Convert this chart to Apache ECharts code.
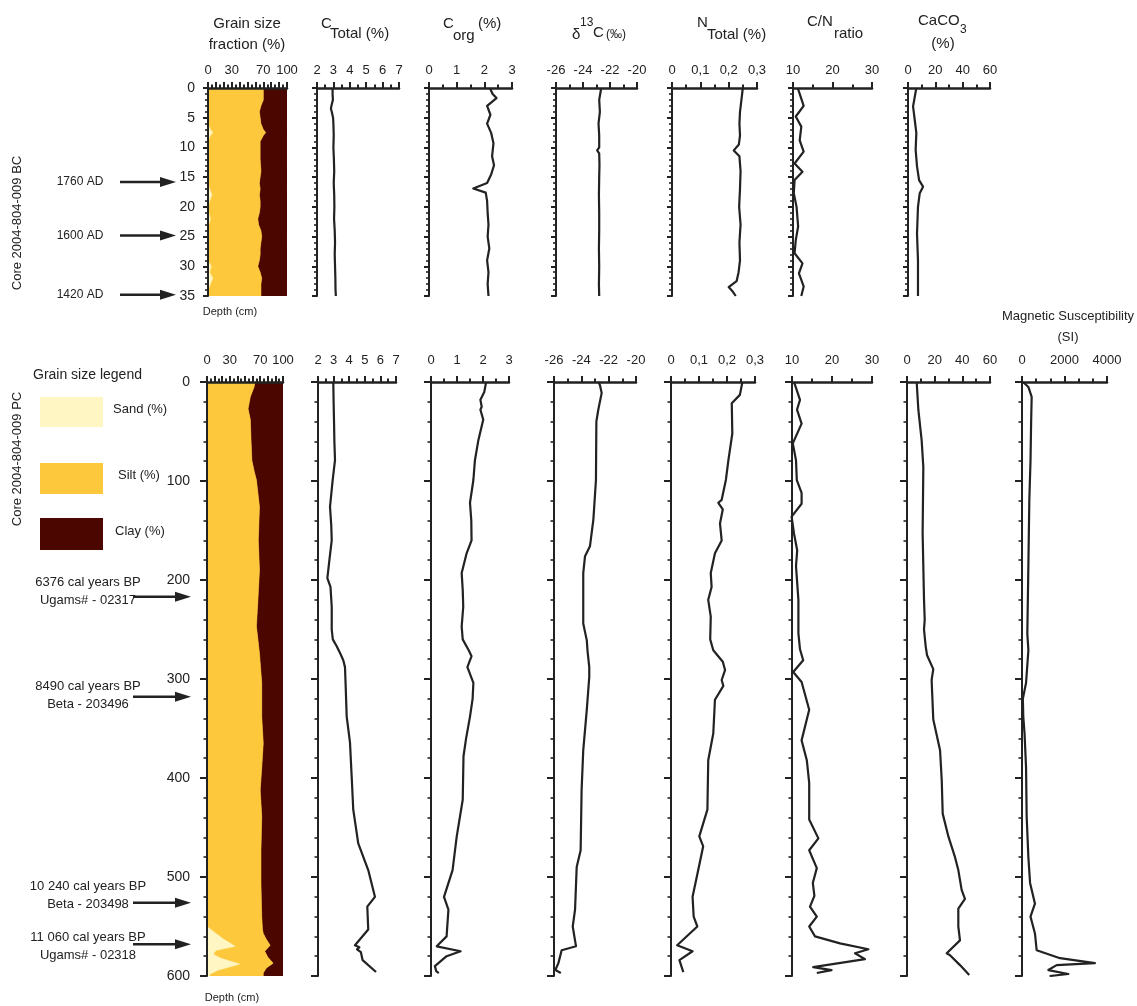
<!DOCTYPE html>
<html>
<head>
<meta charset="utf-8">
<script src="https://cdn.jsdelivr.net/npm/echarts@6/dist/echarts.min.js"></script>
<style>
  html, body { margin: 0; padding: 0; background: #fff; }
  #chart { width: 1137px; height: 1006px; }
</style>
</head>
<body>
<div id="chart"></div>
<script>
// ---------- Box core 2004-804-009 BC (depth 0–35 cm) ----------
const bcGrainDepth = [0,2,3,4,5,6,7,7.5,8,9,10,12,14,15,16,17,18,19,20,21,22,23,24,25,26,27,28,29,30,31,32,33,34,35];
const bcSand = [0,0,0,0,0,0,3,6,3,0,0,0,0,0,0,2,5,2,0,1,3,1,0,0,0,0,0,0,4,2,6,3,0,0];
const bcClay = [30,30,33,35,34,33,30,27,30,34,34,34,33,34,35,34,35,34,34,35,37,36,33,32,33,34,34,35,37,34,32,33,33,33];

const bcCtotDepth = [0,1,2,3,3.5,4,5,6,8,10,12,14,16,18,20,22,24,26,28,30,32,34,35];
const bcCtot = [2.95,2.95,2.97,2.88,2.85,2.9,2.98,3.0,3.02,3.0,3.03,3.05,3.02,3.05,3.06,3.04,3.08,3.1,3.08,3.1,3.12,3.13,3.15];

const bcCorgDepth = [0,1,1.7,3,4.5,6,7.6,9.3,11.5,13,14.5,16,16.9,17.6,19,21,23,25,27,29,31,33,35];
const bcCorg = [2.2,2.3,2.44,2.1,2.22,2.1,2.25,2.33,2.28,2.35,2.25,2.1,1.6,2.05,2.1,2.12,2.15,2.12,2.18,2.1,2.15,2.12,2.15];

const bcD13cDepth = [0,2,4,6,8,10,10.5,11,13,15,18,21,24,27,30,33,35];
const bcD13c = [-22.65,-22.8,-22.75,-22.85,-22.8,-22.8,-22.95,-22.8,-22.78,-22.8,-22.82,-22.8,-22.8,-22.82,-22.8,-22.82,-22.8];

const bcNtotDepth = [0,2,4,6,8,9.5,10.5,11.5,14,17,20,23,26,29,31,32.5,33.5,34.3,35];
const bcNtot = [0.25,0.245,0.24,0.238,0.24,0.236,0.218,0.238,0.242,0.24,0.237,0.242,0.238,0.24,0.235,0.228,0.2,0.215,0.225];

const bcCnDepth = [0,1,3,4.8,6.5,8.8,10.7,12.7,14.1,15.5,17.7,20,23.3,25.6,27.8,29.5,31.2,33.4,35];
const bcCn = [11.2,11.7,12.7,10.7,12.1,11.7,12.7,10.4,12.4,10.4,10.2,10.9,11.3,10.7,10.4,12.4,11.5,12.7,12.1];

const bcCaco3Depth = [0,3.1,5.3,7.6,10.4,13.2,15.5,16.6,17.7,20,24.5,29,35];
const bcCaco3 = [6.1,3.7,4.9,6.1,5.6,6.6,8.1,11,8.6,7.3,6.6,7.3,7.3];

// ---------- Piston core 2004-804-009 PC (depth 0–600 cm) ----------
const pcSandDepth = [0,550,556,563,570,574,578,582,588,594,598,600];
const pcSand = [0,0,10,22,37,12,8,18,43,15,4,3];
const pcClayDepth = [0,5,15,27,38,60,79,90,99,126,160,190,220,247,274,304,338,365,390,412,439,473,507,540,553,557,563,569,575,581,587,592,597,600];
const pcClay = [37,38,43,46,43,42,41,38,35,31,32.5,31,33,35,31,28,28,26,28,30,28,29,29,28,27,26,22,17,24,20,13,22,26,26];

const pcCtotDepth = [0,20,42,60,79,99,126,145,160,180,198,207,227,250,260,267,275,281,288,310,338,364,399,432,466,493,520,530,553,569,571,573,576,584,596];
const pcCtot = [2.98,3.0,3.03,3.05,3.09,2.94,2.77,2.85,2.88,2.73,2.6,2.8,2.88,2.88,2.95,3.2,3.45,3.62,3.73,3.78,3.84,4.05,4.16,4.26,4.58,5.22,5.65,5.16,5.22,4.37,4.65,4.5,4.75,4.86,5.72];

const pcCorgDepth = [0,10,18,25,28,38,59,79,99,122,140,160,173,193,210,227,247,260,271,277,288,304,320,338,360,378,422,459,493,520,533,560,570,575,580,590,595,597];
const pcCorg = [2.12,2.05,1.9,1.95,1.9,2.01,1.82,1.69,1.63,1.5,1.55,1.56,1.37,1.18,1.22,1.24,1.18,1.22,1.45,1.56,1.4,1.63,1.6,1.5,1.35,1.25,1.22,0.99,0.83,0.5,0.67,0.6,0.22,1.14,0.6,0.15,0.2,0.3];

const pcD13cDepth = [0,3,11,28,40,99,139,166,176,193,244,261,271,288,298,331,372,412,473,490,533,550,565,570,574,587,594,597];
const pcD13c = [-22.75,-22.64,-22.51,-22.76,-22.9,-22.93,-23.12,-23.37,-23.73,-23.86,-23.86,-23.6,-23.55,-23.42,-23.42,-23.6,-23.86,-23.98,-24.05,-24.34,-24.46,-24.63,-24.45,-24.39,-25.44,-25.68,-25.9,-25.5];

const pcNtotDepth = [0,13,21.5,52,79,99,119,122,128.6,143,160,173,193,207,220,237,260,271,282.5,291,301,307,321,355,382,432,459,469,500,520,540,550,569,575,584,596];
const pcNtot = [0.255,0.246,0.217,0.219,0.205,0.196,0.181,0.169,0.185,0.175,0.181,0.157,0.142,0.145,0.133,0.142,0.14,0.151,0.185,0.193,0.181,0.187,0.157,0.151,0.133,0.13,0.101,0.115,0.092,0.077,0.081,0.094,0.022,0.077,0.03,0.044];

const pcCnDepth = [0,3,18,28,42,62,79,99,112,123,136,153,170,186,220,254,270,281,293,303,331,362,382,405,442,461,473,491,506,519,530,540,550,560,567,573,577,583,591,594,597];
const pcCn = [10.5,10.75,12,11.25,12.4,10.2,11,11.2,12.4,12.4,9.9,10.5,11.3,11,11.6,11.6,12,12.8,10.3,12.4,14.3,12.4,13.7,14.3,14.3,16.6,14.3,16.2,15.2,15.6,14.5,16.2,14.3,15.75,22,29.1,25.75,28.25,15.3,19.9,16.2];

const pcCaco3Depth = [0,28,59,86,153,220,240,250,267,276,290,301,341,372,402,436,459,480,493,513,522,532,550,564,577,579,589,599];
const pcCaco3 = [7,8.2,10.6,11.8,11.3,12.3,12.8,12.3,13.5,14.5,19,17.8,19,23.9,25.1,25.8,29.9,34.7,37.1,39.5,41.9,37.1,37.1,38.3,28.7,31.1,38.3,45];

const pcMsDepth = [0,5,15,40,80,119,186,254,271,304,320,338,355,389,439,480,506,527,540,557,574,582,587,589,594,598,600];
const pcMs = [50,300,455,430,400,345,300,250,300,190,40,60,120,190,220,300,380,610,400,610,690,1790,3430,1630,1240,2180,1300];

// Dated horizons
const bcDateLabels = ['1760 AD', '1600 AD', '1420 AD'];
const bcDateDepths = [15.8, 24.8, 34.8];
const pcDateLabels = [
  ['6376 cal years BP', 'Ugams# - 02317'],
  ['8490 cal years BP', 'Beta - 203496'],
  ['10 240 cal years BP', 'Beta - 203498'],
  ['11 060 cal years BP', 'Ugams# - 02318']
];
const pcDateDepths = [217, 318, 526, 568];

// ---------- styling / layout ----------
const FONT = '"Liberation Sans", Arial, sans-serif';
const INK = '#222222';
const SAND = '#fff6c4';
const SILT = '#fdc83c';
const CLAY = '#4c0600';

const ROWS = {
  bc: { top: 88, height: 208, max: 35, interval: 5, xMargin: 11, yMargin: 13, tick: 5, minor: 3, majorY: 5 },
  pc: { top: 382, height: 594, max: 600, interval: 100, xMargin: 15, yMargin: 17, tick: 7, minor: 3.5, majorY: 7 }
};
const SCALES = {
  grain: { min: 0, max: 100, interval: 10, split: 2, labels: [0, 30, 70, 100] },
  ctot:  { min: 2, max: 7, interval: 1, split: 2 },
  corg:  { min: 0, max: 3, interval: 1, split: 2 },
  d13c:  { min: -26, max: -20, interval: 2, split: 2 },
  ntot:  { min: 0, max: 0.3, interval: 0.1, split: 2, comma: true },
  cn:    { min: 10, max: 30, interval: 10, split: 2 },
  caco3: { min: 0, max: 60, interval: 20, split: 2 },
  ms:    { min: 0, max: 4000, interval: 2000, split: 3 }
};
const PANELS = [
  { row: 'bc', scale: 'grain', left: 208, width: 79 },
  { row: 'bc', scale: 'ctot',  left: 317, width: 82 },
  { row: 'bc', scale: 'corg',  left: 429, width: 83 },
  { row: 'bc', scale: 'd13c',  left: 556, width: 81 },
  { row: 'bc', scale: 'ntot',  left: 672, width: 85 },
  { row: 'bc', scale: 'cn',    left: 793, width: 79 },
  { row: 'bc', scale: 'caco3', left: 908, width: 82 },
  { row: 'pc', scale: 'grain', left: 207, width: 76 },
  { row: 'pc', scale: 'ctot',  left: 318, width: 78 },
  { row: 'pc', scale: 'corg',  left: 431, width: 78 },
  { row: 'pc', scale: 'd13c',  left: 554, width: 82 },
  { row: 'pc', scale: 'ntot',  left: 671, width: 84 },
  { row: 'pc', scale: 'cn',    left: 792, width: 80 },
  { row: 'pc', scale: 'caco3', left: 907, width: 83 },
  { row: 'pc', scale: 'ms',    left: 1022, width: 85 }
];

const grids = [], xAxes = [], yAxes = [];
PANELS.forEach((p, i) => {
  const r = ROWS[p.row], s = SCALES[p.scale];
  grids.push({ left: p.left, top: r.top, width: p.width, height: r.height, containLabel: false, outerBoundsMode: 'none' });
  const label = {
    color: INK, fontFamily: FONT, fontSize: 13, margin: r.xMargin, showMinLabel: true, showMaxLabel: true,
    formatter: v => s.comma ? (v === 0 ? '0' : (+v).toFixed(1).replace('.', ',')) : String(+(+v).toFixed(4))
  };
  if (s.labels) label.customValues = s.labels;
  xAxes.push({
    gridIndex: i, type: 'value', position: 'top', min: s.min, max: s.max, interval: s.interval, z: 10,
    axisLine: { show: true, onZero: false, lineStyle: { color: INK, width: 2.5 } },
    axisTick: { show: true, inside: false, length: 6, lineStyle: { color: INK, width: 2 } },
    minorTick: { show: true, splitNumber: s.split, length: 3.5, lineStyle: { color: INK, width: 2 } },
    splitLine: { show: false }, minorSplitLine: { show: false },
    axisLabel: label
  });
  yAxes.push({
    gridIndex: i, type: 'value', inverse: true, min: 0, max: r.max, interval: r.interval, z: 10,
    axisLine: { show: true, onZero: false, lineStyle: { color: INK, width: 2 } },
    axisTick: { show: true, inside: false, length: r.majorY, lineStyle: { color: INK, width: 2 } },
    minorTick: { show: true, splitNumber: 5, length: r.minor, lineStyle: { color: INK, width: 1.6 } },
    splitLine: { show: false }, minorSplitLine: { show: false },
    axisLabel: { show: p.scale === 'grain', color: INK, fontFamily: FONT, fontSize: 14, margin: r.yMargin }
  });
});

// Filled band between two boundaries of the stacked grain-size column
function band(axisIdx, color, leftEdge, rightEdge) {
  return {
    type: 'custom', xAxisIndex: axisIdx, yAxisIndex: axisIdx, silent: true, clip: true, z: 1,
    data: [[0, 0]],
    renderItem: (params, api) => {
      const pts = leftEdge.map(p => api.coord(p))
        .concat(rightEdge.slice().reverse().map(p => api.coord(p)));
      return { type: 'polygon', shape: { points: pts }, style: { fill: color, stroke: color, lineWidth: 0.6 } };
    }
  };
}
function grainSeries(axisIdx, sandDepth, sand, clayDepth, clay) {
  const axisEdge = d => d.map(v => [0, v]);
  const sandEdge = sandDepth.map((d, i) => [sand[i], d]);
  const clayEdge = clayDepth.map((d, i) => [100 - clay[i], d]);
  const fullEdge = clayDepth.map(d => [100, d]);
  return [
    band(axisIdx, CLAY, clayEdge, fullEdge),
    band(axisIdx, SILT, axisEdge(clayDepth), clayEdge),
    band(axisIdx, SAND, axisEdge(sandDepth), sandEdge)
  ];
}
function profile(axisIdx, depth, vals) {
  return {
    type: 'line', xAxisIndex: axisIdx, yAxisIndex: axisIdx, silent: true, z: 3,
    data: depth.map((d, i) => [vals[i], d]),
    symbol: 'none', showSymbol: false, clip: true,
    lineStyle: { color: INK, width: 2.2, join: 'round' }
  };
}

const series = [].concat(
  grainSeries(0, bcGrainDepth, bcSand, bcGrainDepth, bcClay),
  [profile(1, bcCtotDepth, bcCtot), profile(2, bcCorgDepth, bcCorg), profile(3, bcD13cDepth, bcD13c),
   profile(4, bcNtotDepth, bcNtot), profile(5, bcCnDepth, bcCn), profile(6, bcCaco3Depth, bcCaco3)],
  grainSeries(7, pcSandDepth, pcSand, pcClayDepth, pcClay),
  [profile(8, pcCtotDepth, pcCtot), profile(9, pcCorgDepth, pcCorg), profile(10, pcD13cDepth, pcD13c),
   profile(11, pcNtotDepth, pcNtot), profile(12, pcCnDepth, pcCn), profile(13, pcCaco3Depth, pcCaco3),
   profile(14, pcMsDepth, pcMs)]
);

const chart = echarts.init(document.getElementById('chart'), null, { renderer: 'canvas' });
chart.setOption({
  animation: false,
  backgroundColor: '#ffffff',
  grid: grids, xAxis: xAxes, yAxis: yAxes, series: series
});

// ---------- titles, legend and date markers ----------
function txt(x, y, text, size, align, extra) {
  const a = align || 'center';
  return Object.assign({
    type: 'text', x: x, y: y, silent: true, z: 20,
    style: { text: text, font: size + 'px ' + FONT, fill: INK, align: a, verticalAlign: 'middle', textAlign: a, textVerticalAlign: 'middle' }
  }, extra || {});
}
function arrow(x1, x2, y) {
  return [
    { type: 'line', silent: true, z: 20, shape: { x1: x1, y1: y, x2: x2 - 8, y2: y }, style: { stroke: INK, lineWidth: 2.5 } },
    { type: 'polygon', silent: true, z: 20, shape: { points: [[x2 - 16, y - 5], [x2, y], [x2 - 16, y + 5]] }, style: { fill: INK } }
  ];
}

const g = [];
// column headers
g.push(txt(247, 24, 'Grain size', 15), txt(247, 45, 'fraction (%)', 15));
g.push(txt(321, 24, 'C', 15, 'left'), txt(330, 34, 'Total (%)', 15, 'left'));
g.push(txt(443, 24, 'C', 15, 'left'), txt(453, 36, 'org', 15, 'left'), txt(478, 24, '(%)', 15, 'left'));
g.push(txt(572, 35, 'δ', 15, 'left'), txt(580, 23, '13', 12, 'left'), txt(593, 33, 'C', 15, 'left'), txt(606, 35, '(‰)', 12, 'left'));
g.push(txt(697, 23, 'N', 15, 'left'), txt(707, 35, 'Total (%)', 15, 'left'));
g.push(txt(807, 22, 'C/N', 15, 'left'), txt(834, 34, 'ratio', 15, 'left'));
g.push(txt(918, 21, 'CaCO', 15, 'left'), txt(960, 30, '3', 12, 'left'), txt(943, 44, '(%)', 15));
g.push(txt(1068, 316, 'Magnetic Susceptibility', 13), txt(1068, 337, '(SI)', 13));
// depth captions
g.push(txt(230, 312, 'Depth (cm)', 11), txt(232, 998, 'Depth (cm)', 11));
// core names
g.push(txt(17, 223, 'Core 2004-804-009 BC', 13, 'center', { rotation: Math.PI / 2 }));
g.push(txt(17, 459, 'Core 2004-804-009 PC', 13, 'center', { rotation: Math.PI / 2 }));
// grain size legend
g.push(txt(33, 375, 'Grain size legend', 14, 'left'));
[[SAND, 397, 30, 'Sand (%)', 113], [SILT, 463, 31, 'Silt (%)', 118], [CLAY, 518, 32, 'Clay (%)', 115]].forEach(([c, y, h, t, tx]) => {
  g.push({ type: 'rect', silent: true, z: 20, shape: { x: 40, y: y, width: 63, height: h }, style: { fill: c } });
  g.push(txt(tx, y + h / 2 - 3, t, 13, 'left'));
});
// dated horizons, placed through the depth axes
bcDateLabels.forEach((t, i) => {
  const y = chart.convertToPixel({ yAxisIndex: 0 }, bcDateDepths[i]);
  g.push(txt(80, y, t, 12));
  g.push(...arrow(120, 176, y));
});
const pcTextShift = [-14, -10, -16, -7];
pcDateLabels.forEach((lines, i) => {
  const y = chart.convertToPixel({ yAxisIndex: 7 }, pcDateDepths[i]);
  g.push(txt(88, y + pcTextShift[i], lines[0], 13));
  g.push(txt(88, y + pcTextShift[i] + 18, lines[1], 13));
  g.push(...arrow(133, 191, y));
});

chart.setOption({ graphic: { elements: g } });
</script>
</body>
</html>
